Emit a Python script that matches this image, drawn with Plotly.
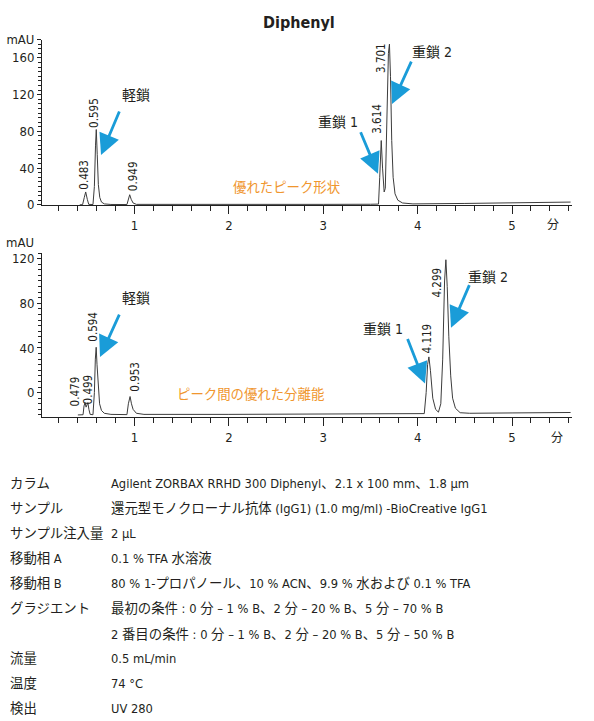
import plotly.graph_objects as go

W, H = 594, 721

# ---------------- data ----------------
# Upper chromatogram (first gradient), time in minutes, absorbance in mAU
top_time = [0.42, 0.45, 0.468, 0.483, 0.50, 0.515, 0.56, 0.575, 0.587, 0.595,
            0.605, 0.617, 0.632, 0.65, 0.68, 0.75, 0.92, 0.935, 0.949, 0.965,
            0.985, 1.02, 1.5, 2.5, 3.0, 3.5, 3.585, 3.598, 3.614, 3.628,
            3.645, 3.657, 3.672, 3.690, 3.701, 3.712, 3.725, 3.74, 3.76, 3.79,
            3.84, 3.95, 4.5, 5.0, 5.62]
top_mau = [0.0, 0.2, 8, 14, 6, 0.5, 0.3, 20, 65, 82,
           55, 22, 8, 3, 1, 0.4, 0.3, 5, 11, 6,
           2, 0.5, 0.3, 0.5, 0.5, 0.6, 0.8, 30, 70, 40,
           14, 18, 90, 165, 175, 140, 70, 30, 12, 5,
           2, 1, 1.5, 2, 3]

# Lower chromatogram (second gradient)
bot_time = [0.40, 0.455, 0.465, 0.476, 0.487, 0.493, 0.506, 0.517, 0.53, 0.56,
            0.575, 0.585, 0.594, 0.603, 0.615, 0.63, 0.65, 0.68, 0.75, 0.92,
            0.935, 0.953, 0.968, 0.985, 1.02, 1.1, 2.0, 3.0, 4.0, 4.07,
            4.09, 4.105, 4.119, 4.135, 4.16, 4.19, 4.22, 4.245, 4.265, 4.285,
            4.299, 4.313, 4.33, 4.35, 4.37, 4.40, 4.45, 4.55, 5.0, 5.62]
bot_mau = [-20, -19.8, -12, -9, -13, -11, -9, -15, -19.5, -19.8,
           0, 30, 40.6, 25, 5, -10, -16, -18.5, -19.5, -19.7,
           -10, -3.5, -10, -15, -18.5, -19.5, -19.5, -19.3, -19.0, -18.8,
           0, 25, 32, 20, -5, -15, -17.5, -10, 30, 100,
           119, 95, 50, 15, -5, -14, -18, -18.5, -18.2, -17.8]

top_rt_labels = ["0.483", "0.595", "0.949", "3.614", "3.701"]
bot_rt_labels = ["0.479", "0.499", "0.594", "0.953", "4.119", "4.299"]
x_tick_vals = [1, 2, 3, 4, 5]
top_y_ticks = [0, 40, 80, 120, 160]
bot_y_ticks = [0, 40, 80, 120]
peak_names = ["軽鎖", "重鎖 1", "重鎖 2"]
note_top = "優れたピーク形状"
note_bot = "ピーク間の優れた分離能"
title_text = "Diphenyl"
x_unit = "分"
y_unit = "mAU"

table_labels = ["カラム", "サンプル", "サンプル注入量", "移動相 A", "移動相 B",
                "グラジエント", "", "流量", "温度", "検出"]
table_values = [
    "Agilent ZORBAX RRHD 300 Diphenyl、2.1 x 100 mm、1.8 µm",
    "還元型モノクローナル抗体 (IgG1) (1.0 mg/ml) -BioCreative IgG1",
    "2 µL",
    "0.1 % TFA 水溶液",
    "80 % 1-プロパノール、10 % ACN、9.9 % 水および 0.1 % TFA",
    "最初の条件 : 0 分 – 1 % B、2 分 – 20 % B、5 分 – 70 % B",
    "2 番目の条件 : 0 分 – 1 % B、2 分 – 20 % B、5 分 – 50 % B",
    "0.5 mL/min",
    "74 °C",
    "UV 280",
]

# ---------------- styling ----------------
NARROW = "DejaVu Sans Condensed, Noto Sans CJK JP, sans-serif"
JP = "DejaVu Sans Condensed, Noto Sans CJK JP, sans-serif"
BLUE = "#1a9cd8"
ORANGE = "#f0962e"
LINE = "#3c3c3c"
TXT = "#231f20"


def px(x):
    return x / W


def py(y):
    return 1 - y / H


def latin_small(text, size):
    """Wrap runs of Latin characters in a smaller span (the original uses a condensed face)."""
    out, run, is_lat = [], "", None
    for ch in text:
        lat = ord(ch) < 0x2000 or ch == "–"
        if is_lat is None or lat == is_lat:
            run += ch
        else:
            out.append((run, is_lat))
            run = ch
        is_lat = lat
    if run:
        out.append((run, is_lat))
    s = ""
    for r, lat in out:
        if lat:
            s += '<span style="font-size:%spx">%s</span>' % (size, r)
        else:
            s += r
    return s


fig = go.Figure()
fig.add_trace(go.Scatter(x=top_time, y=top_mau, mode="lines",
                         line=dict(color=LINE, width=1), xaxis="x", yaxis="y",
                         hoverinfo="skip", showlegend=False))
fig.add_trace(go.Scatter(x=bot_time, y=bot_mau, mode="lines",
                         line=dict(color=LINE, width=1), xaxis="x2", yaxis="y2",
                         hoverinfo="skip", showlegend=False))

xdom = [px(42), px(572)]
axis_common = dict(showline=True, linecolor="#222", linewidth=1, showgrid=False,
                   zeroline=False, ticks="outside", tickcolor="#222",
                   tickfont=dict(family=NARROW, size=13, color=TXT))

xa = dict(axis_common, domain=xdom, range=[0.02, 5.635], tickmode="array",
          tickvals=x_tick_vals, ticklen=8,
          minor=dict(tickmode="linear", tick0=0, dtick=0.2, ticklen=5,
                     ticks="outside", tickcolor="#222"))

top_minor = [v for v in range(0, 181, 5)]
bot_minor = [v for v in range(-20, 126, 5)]

fig.update_layout(
    width=W, height=H, margin=dict(l=0, r=0, t=0, b=0),
    paper_bgcolor="white", plot_bgcolor="white", showlegend=False,
    xaxis=dict(xa, anchor="y"),
    xaxis2=dict(xa, anchor="y2"),
    yaxis=dict(axis_common, domain=[py(202.3), py(33.2)], range=[-0.6, 180.0],
               tickmode="array", tickvals=top_y_ticks + [180],
               ticktext=[str(v) for v in top_y_ticks] + [y_unit], ticklen=4,
               minor=dict(tickmode="array", tickvals=top_minor, ticklen=3,
                          ticks="outside", tickcolor="#222")),
    yaxis2=dict(axis_common, domain=[py(418.3), py(250.7)], range=[-22, 125.2],
                tickmode="array", tickvals=bot_y_ticks, ticklen=4,
                minor=dict(tickmode="array", tickvals=bot_minor, ticklen=3,
                           ticks="outside", tickcolor="#222")),
)

ann = []


def label(text, x, y, size=13, color=TXT, family=NARROW, angle=0, xanchor="center",
          bold=False):
    ann.append(dict(text=("<b>%s</b>" % text) if bold else text,
                    x=px(x), y=py(y), xref="paper", yref="paper",
                    xanchor=xanchor, yanchor="middle", showarrow=False,
                    textangle=angle, borderpad=0,
                    font=dict(family=family, size=size, color=color)))


def arrow(tail, head):
    ann.append(dict(text="", x=px(head[0]), y=py(head[1]), xref="paper", yref="paper",
                    ax=tail[0] - head[0], ay=tail[1] - head[1], showarrow=True,
                    arrowhead=2, arrowsize=1.5, arrowwidth=2.8, arrowcolor=BLUE))


# title
label(title_text, 299, 16, size=16, bold=True)
# axis units
label(x_unit, 553, 222, size=12, family=JP)
label(x_unit, 557, 440, size=12, family=JP)
label(y_unit, 20, 240, size=13)

# retention time labels (rotated)
for t, (x, y) in zip(top_rt_labels, [(84, 171), (94, 108), (132.5, 173), (377, 114), (381, 52)]):
    label(t, x, y, size=11.5, angle=-90)
for t, (x, y) in zip(bot_rt_labels, [(75, 392), (88, 390), (93, 326), (135, 377), (427, 338), (437, 281)]):
    label(t, x, y, size=11.5, angle=-90)

# peak names + arrows, upper
label(peak_names[0], 136, 90, size=14, family=JP)
label(peak_names[1], 338, 117, size=14, family=JP)
label(peak_names[2], 432, 46, size=14, family=JP)
arrow((120, 106), (101, 151))
arrow((360, 127), (378, 170))
arrow((412, 55), (392, 99))

# peak names + arrows, lower
label(peak_names[0], 136, 297, size=14, family=JP)
label(peak_names[1], 383, 328, size=14, family=JP)
label(peak_names[2], 488, 275, size=14, family=JP)
arrow((120, 313), (100, 357))
arrow((407, 338), (425, 384))
arrow((470, 283), (451, 327))

# orange notes
label(note_top, 287, 184, size=13.4, color=ORANGE, family=JP)
label(note_bot, 250, 395, size=13.4, color=ORANGE, family=JP)

# conditions table
row_y = [486, 511, 537, 562, 588, 613, 639, 664, 690, 715]
for lab, val, yy in zip(table_labels, table_values, row_y):
    if lab:
        label(latin_small(lab, 12.8), 9, yy, size=13.4, family=JP, xanchor="left")
    label(latin_small(val, 12.8), 110, yy, size=13.4, family=JP, xanchor="left")

fig.update_layout(annotations=ann)
fig.write_html("out.html", config={"displayModeBar": False},
               post_script="document.body.style.margin='0';document.body.style.overflow='hidden';")
